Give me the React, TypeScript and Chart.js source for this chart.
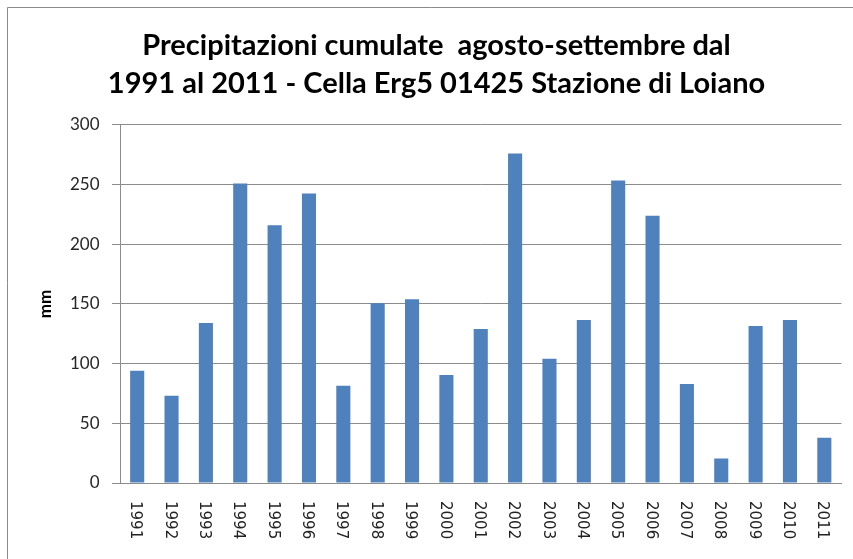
import React, { useEffect, useRef } from "react";
import { Chart, registerables } from "chart.js";

Chart.register(...registerables);

const years = [
  "1991", "1992", "1993", "1994", "1995", "1996", "1997", "1998", "1999", "2000",
  "2001", "2002", "2003", "2004", "2005", "2006", "2007", "2008", "2009", "2010", "2011",
];
const precipitationMm = [
  94, 73, 134, 251, 216, 242.5, 81.5, 150.5, 154, 90.5,
  129, 276, 104, 136.5, 253.5, 224, 83, 20.5, 131.5, 136.5, 38,
];
const titleLines = [
  "Precipitazioni cumulate  agosto-settembre dal",
  "1991 al 2011 - Cella Erg5 01425 Stazione di Loiano",
];
const yAxisLabel = "mm";
const yMin = 0;
const yMax = 300;
const yStep = 50;

const GRID = "#8c8c8c";

const framePlugin = {
  id: "frame",
  beforeDraw(chart: any) {
    const ctx = chart.ctx;
    ctx.save();
    ctx.fillStyle = "#ffffff";
    ctx.fillRect(0, 0, chart.width, chart.height);
    ctx.strokeStyle = "#8a8a8a";
    ctx.lineWidth = 1;
    ctx.beginPath();
    ctx.moveTo(7.5, chart.height + 5);
    ctx.lineTo(7.5, 7.5);
    ctx.lineTo(chart.width + 5, 7.5);
    ctx.stroke();
    ctx.restore();
  },
};

const rotatedLabelsPlugin = {
  id: "rotatedLabels",
  afterDraw(chart: any) {
    const ctx = chart.ctx;
    const xs = chart.scales.x;
    ctx.save();
    ctx.font = "15px 'DejaVu Sans'";
    ctx.fillStyle = "#222222";
    ctx.textAlign = "left";
    ctx.textBaseline = "middle";
    years.forEach((label, i) => {
      const x = xs.getPixelForValue(i) - 2;
      const y = xs.top + 18;
      ctx.save();
      ctx.translate(x, y);
      ctx.rotate(Math.PI / 2);
      ctx.fillText(label, 0, 0);
      ctx.restore();
    });
    ctx.restore();
  },
};

export default function App() {
  const ref = useRef<HTMLCanvasElement | null>(null);

  useEffect(() => {
    if (!ref.current) return;
    const chart = new Chart(ref.current, {
      type: "bar",
      data: {
        labels: years,
        datasets: [
          {
            label: "mm",
            data: precipitationMm,
            backgroundColor: "#4f81bd",
            borderWidth: 0,
            barPercentage: 0.41,
            categoryPercentage: 1,
          },
        ],
      },
      options: {
        responsive: false,
        animation: false,
        layout: { padding: { left: 31.5, right: 11.5, top: 0, bottom: 0 } },
        plugins: {
          legend: { display: false },
          tooltip: { enabled: false },
          title: {
            display: true,
            text: titleLines,
            color: "#000000",
            font: { family: "Lato", size: 29, weight: "bold", lineHeight: 1.33 },
            padding: { top: 26, bottom: 21.8 },
          },
        },
        scales: {
          x: {
            grid: { display: false },
            border: { display: true, color: GRID, width: 1 },
            ticks: { display: false },
            afterFit: (scale: any) => {
              scale.height = 76;
            },
          },
          y: {
            min: yMin,
            max: yMax,
            ticks: {
              stepSize: yStep,
              color: "#262626",
              font: { family: "Lato", size: 17 },
              padding: 12.5,
            },
            grid: { color: GRID, lineWidth: 1, tickLength: 8 },
            border: { display: true, color: GRID, width: 1 },
            title: {
              display: true,
              text: yAxisLabel,
              color: "#000000",
              font: { family: "Lato", size: 17, weight: "bold", lineHeight: 1.2 },
              padding: { top: 4, bottom: 0 },
            },
            afterFit: (scale: any) => {
              scale.width = 88.5;
            },
          },
        },
      },
      plugins: [framePlugin, rotatedLabelsPlugin],
    });
    return () => chart.destroy();
  }, []);

  return (
    <div style={{ position: "fixed", left: 0, top: 0, width: 853, height: 559 }}>
      <canvas ref={ref} width={853} height={559} style={{ display: "block" }} />
    </div>
  );
}
